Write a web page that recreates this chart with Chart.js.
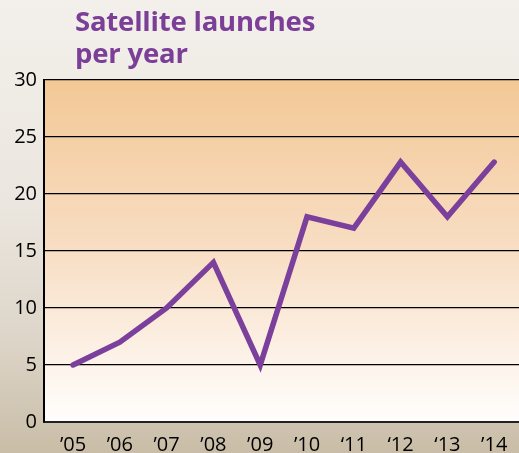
<!DOCTYPE html>
<html><head><meta charset="utf-8">
<script src="https://cdn.jsdelivr.net/npm/chart.js@4.4.1/dist/chart.umd.min.js"></script>
<style>
html,body{margin:0;padding:0;}
body{width:519px;height:453px;overflow:hidden;position:relative;
 background:linear-gradient(to bottom,#f3f0eb 0%,#ebe6df 45%,#ddd5c8 75%,#c9bda7 100%);}
#title{position:absolute;left:75px;top:5px;font-family:"Open Sans",sans-serif;font-weight:700;
 font-size:27.5px;line-height:32px;color:#7b3f98;letter-spacing:-0.2px;}
#wrap{position:absolute;left:0;top:0;width:519px;height:453px;}
</style></head>
<body>
<div id="wrap"><canvas id="c" width="519" height="453"></canvas></div>
<div id="title">Satellite launches<br>per year</div>
<script>
const categories = ["\u201905","\u201906","\u201907","\u201908","\u201909","\u201910","\u201811","\u201812","\u201813","\u201914"];
const launches = [5, 7, 10, 14, 5, 18, 17, 22.8, 18, 22.8];
const yTicks = [0, 5, 10, 15, 20, 25, 30];

const bgPlugin = {
  id:'plotBg',
  beforeDraw(chart){
    const {ctx, chartArea:a} = chart;
    const g = ctx.createLinearGradient(0,a.top,0,a.bottom);
    g.addColorStop(0,'#f3c896');
    g.addColorStop(0.5,'#f8dec4');
    g.addColorStop(1,'#fffefd');
    ctx.save(); ctx.fillStyle=g; ctx.fillRect(a.left,a.top,a.right-a.left,a.bottom-a.top); ctx.restore();
  }
};

new Chart(document.getElementById('c'), {
  type:'line',
  data:{datasets:[{
    data: launches.map((v,i)=>({x:i,y:v})),
    borderColor:'#7b3f9c', borderWidth:5.5, pointRadius:0,
    borderJoinStyle:'miter', borderCapStyle:'round', tension:0, fill:false
  }]},
  options:{
    responsive:false, animation:false,
    layout:{padding:{top:80,left:0,right:0,bottom:0}},
    plugins:{legend:{display:false},tooltip:{enabled:false}},
    scales:{
      x:{type:'linear', min:-0.62, max:9.53,
        afterFit(s){s.height=31;},
        afterBuildTicks(s){s.ticks = categories.map((c,i)=>({value:i}));},
        ticks:{autoSkip:false, maxRotation:0, padding:3, color:'#000',
          font:{family:'"Open Sans", sans-serif', size:20},
          callback:(v)=>categories[v]},
        grid:{display:false},
        border:{display:true,color:'#222',width:2}
      },
      y:{min:0,max:30,
        afterFit(s){s.width=44;},
        afterBuildTicks(s){s.ticks = yTicks.map(v=>({value:v}));},
        ticks:{color:'#000',padding:7,font:{family:'"Open Sans", sans-serif', size:20}},
        grid:{color:'#000',lineWidth:1.3,drawTicks:false},
        border:{display:true,color:'#000',width:2}
      }
    }
  },
  plugins:[bgPlugin]
});
</script>
</body></html>
